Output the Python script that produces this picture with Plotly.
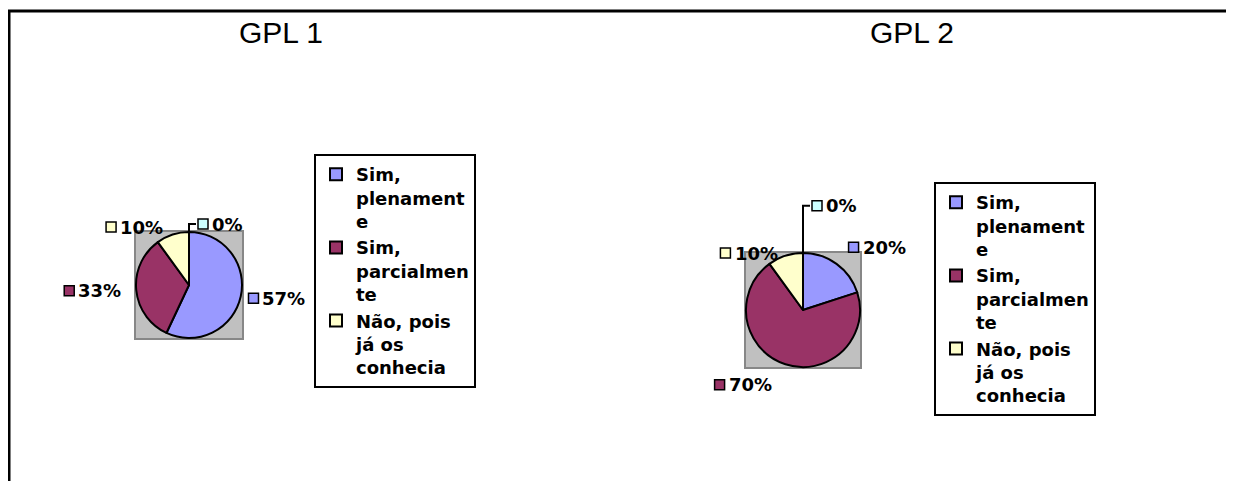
import math
import plotly.graph_objects as go

# figure size in px (paper coords are derived from these)
W, H = 1234, 481
# the page body has an 8px margin: positions below are page px, shifted by this
OFF = 8

# ---- data ----
categories = ["Sim, plenamente", "Sim, parcialmente", "Não, pois já os conhecia"]
legend_labels = ["Sim,<br>plenament<br>e", "Sim,<br>parcialmen<br>te", "Não, pois<br>já os<br>conhecia"]
titles = ["GPL 1", "GPL 2"]
gpl1_values = [57, 33, 10]
gpl2_values = [20, 70, 10]
# fourth, unnamed category (not in the legend)
gpl1_other = 0
gpl2_other = 0

slice_colors = ["#9999FF", "#993366", "#FFFFCC"]
other_color = "#CCFFFF"

# ---- layout of the two panels (page px) ----
panels = [
    dict(title=titles[0], values=gpl1_values, other=gpl1_other, cx=189, cy=285, r=53,
         title_x=281, legend="legend", lab_f=[1.15, 1.15, 1.15, 1.15]),
    dict(title=titles[1], values=gpl2_values, other=gpl2_other, cx=803, cy=310, r=57,
         title_x=912, legend="legend2", lab_f=[1.36, 1.38, 1.05, 1.83]),
]


def px(x):
    return (x - OFF) / W


def py(y):
    return 1 - (y - OFF) / H


LAB_SIZE = 18
LAB_FONT = dict(family="DejaVu Sans", size=LAB_SIZE, color="black", weight="bold")


def text_width(s, size):
    # rough width of bold DejaVu digits / percent sign
    return sum(1.002 if ch == "%" else 0.696 for ch in s) * size


fig = go.Figure()
shapes = []
annotations = []

for k, p in enumerate(panels):
    cx, cy, r = p["cx"], p["cy"], p["r"]
    # pie legends dedupe labels across traces, so make each panel's labels unique (invisible suffix)
    labels = [lab + "\u200b" * k for lab in legend_labels]
    fig.add_trace(go.Pie(
        labels=labels,
        values=p["values"],
        sort=False,
        direction="clockwise",
        rotation=0,
        textinfo="none",
        hovertext=categories,
        hoverinfo="text+percent",
        marker=dict(colors=slice_colors, line=dict(color="black", width=2)),
        domain=dict(x=[px(cx - r), px(cx + r)], y=[py(cy + r), py(cy - r)]),
        legend=p["legend"],
    ))

    # grey plot area behind the pie
    shapes.append(dict(type="rect", xref="paper", yref="paper", layer="below",
                       x0=px(cx - r - 1), x1=px(cx + r + 1), y0=py(cy + r + 1), y1=py(cy - r - 1),
                       fillcolor="#C0C0C0", line=dict(color="#878787", width=2)))

    annotations.append(dict(text=p["title"], x=px(p["title_x"]), y=py(33), xref="paper", yref="paper",
                            showarrow=False, xanchor="center", yanchor="middle",
                            font=dict(family="Arial", size=30, color="black")))

    vals = list(p["values"]) + [p["other"]]
    cols = slice_colors + [other_color]
    total = sum(vals)
    cum = 0
    for i, v in enumerate(vals):
        a = (cum + v / 2) / total * 2 * math.pi
        cum += v
        rr = r * p["lab_f"][i]
        lx = cx + rr * math.sin(a)
        ly = cy - rr * math.cos(a)
        label = f"{v}%"
        if v == 0:
            # leader line from the top of the pie up to the label
            shapes.append(dict(type="path", xref="paper", yref="paper",
                               path=f"M {px(cx)},{py(cy - r)} L {px(cx)},{py(ly)} L {px(cx + 7)},{py(ly)}",
                               line=dict(color="black", width=2)))
            lx = cx + 9
            right = True
        else:
            right = math.sin(a) >= 0
        if right:
            sq0 = lx
            annotations.append(dict(text=label, x=px(lx + 12), y=py(ly), xref="paper", yref="paper",
                                    showarrow=False, xanchor="left", yanchor="middle", font=LAB_FONT))
        else:
            lx -= 5
            sq0 = lx - text_width(label, LAB_SIZE) - 16
            annotations.append(dict(text=label, x=px(lx), y=py(ly), xref="paper", yref="paper",
                                    showarrow=False, xanchor="right", yanchor="middle", font=LAB_FONT))
        shapes.append(dict(type="rect", xref="paper", yref="paper",
                           x0=px(sq0), x1=px(sq0 + 10), y0=py(ly + 5), y1=py(ly - 5),
                           fillcolor=cols[i], line=dict(color="black", width=1.5)))

# outer frame (open at the bottom of the picture)
shapes.append(dict(type="rect", xref="paper", yref="paper", layer="above",
                   x0=px(9), x1=px(1232), y0=-0.2, y1=py(11),
                   line=dict(color="black", width=3), fillcolor="rgba(0,0,0,0)"))

legend_style = dict(xanchor="left", yanchor="top", bordercolor="black", borderwidth=2,
                    bgcolor="white", valign="top",
                    font=dict(family="DejaVu Sans", size=18, color="black", weight="bold"))

fig.update_layout(
    width=W, height=H,
    margin=dict(l=0, r=0, t=0, b=0),
    paper_bgcolor="white",
    plot_bgcolor="white",
    shapes=shapes,
    annotations=annotations,
    legend=dict(x=px(314), y=py(154), **legend_style),
    legend2=dict(x=px(934), y=py(182), **legend_style),
)

fig.write_html("out.html")
